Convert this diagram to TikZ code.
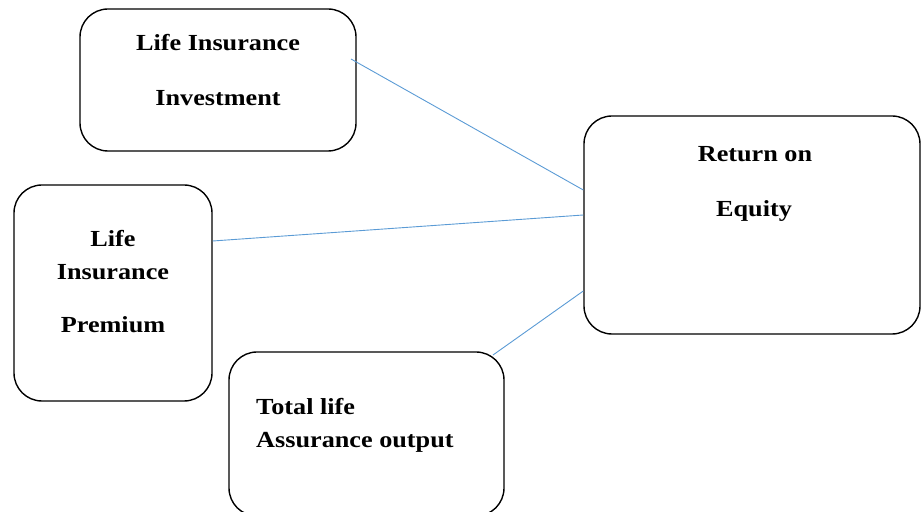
\documentclass[tikz,border=0pt]{standalone}
\usepackage{fontspec}
\setmainfont{Liberation Serif}[FakeStretch=1.14]
\definecolor{linkblue}{RGB}{91,155,213}
\tikzset{
  box/.style={draw=black, line width=1.4pt, rounded corners=28pt, inner sep=0pt},
  lbl/.style={inner sep=0pt, anchor=base, font=\fontsize{23}{28}\selectfont\bfseries},
  lblw/.style={lbl, anchor=base west},
  link/.style={draw=linkblue, line width=0.9pt}
}
\begin{document}
\begin{tikzpicture}[x=1pt,y=1pt]
\useasboundingbox (0,0) rectangle (923,511);
\clip (0,0) rectangle (923,511);
% boxes
\node[box, minimum width=276pt, minimum height=142pt] (inv) at (218,431) {};
\node[box, minimum width=198pt, minimum height=216pt] (prem) at (113,218) {};
\node[box, minimum width=275pt, minimum height=164pt] (tot) at (366.5,77) {};
\node[box, minimum width=336pt, minimum height=218pt] (roe) at (752,286) {};
% texts
\node[lbl] (t1) at (218,460) {Life Insurance};
\node[lbl] (t2) at (218,405) {Investment};
\node[lbl] (t3) at (113,264) {Life};
\node[lbl] (t4) at (113,231) {Insurance};
\node[lbl] (t5) at (113,178) {Premium};
\node[lblw] (t6) at (256,96) {Total life};
\node[lblw] (t7) at (256,63) {Assurance output};
\node[lbl] (t8) at (755,349) {Return on};
\node[lbl] (t9) at (754,294) {Equity};
% connector end points
\coordinate (a1) at (351,452);
\coordinate (b1) at (roe.west |- 0,321);
\coordinate (a2) at (prem.east |- 0,270);
\coordinate (b2) at (roe.west |- 0,296);
\coordinate (a3) at (493,156);
\coordinate (b3) at (roe.west |- 0,220);
\draw[link] (a1) -- (b1);
\draw[link] (a2) -- (b2);
\draw[link] (a3) -- (b3);
\end{tikzpicture}
\end{document}
